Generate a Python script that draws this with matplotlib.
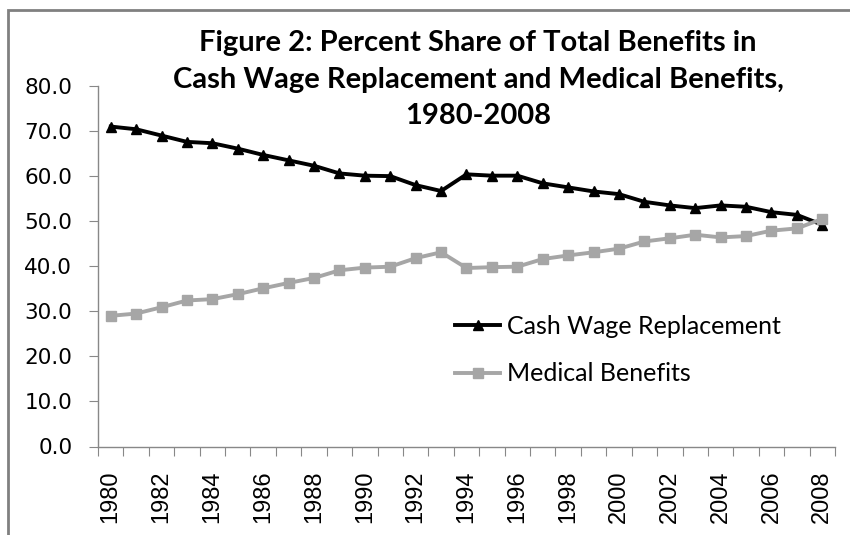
import matplotlib
matplotlib.use("Agg")
import matplotlib.pyplot as plt
from matplotlib.patches import Rectangle

# values
years = list(range(1980, 2009))
cash_wage = [71.0, 70.4, 69.0, 67.6, 67.3, 66.1, 64.7, 63.5, 62.3, 60.6,
             60.1, 60.0, 58.0, 56.7, 60.4, 60.1, 60.1, 58.4, 57.5, 56.6,
             56.0, 54.3, 53.5, 52.9, 53.5, 53.2, 52.0, 51.4, 49.2]
medical = [29.0, 29.5, 30.9, 32.4, 32.7, 33.8, 35.1, 36.3, 37.4, 39.1,
           39.7, 39.9, 41.8, 43.1, 39.6, 39.8, 39.9, 41.6, 42.4, 43.1,
           43.9, 45.5, 46.2, 47.0, 46.4, 46.7, 47.9, 48.4, 50.5]
series_names = ["Cash Wage Replacement", "Medical Benefits"]
title = "Figure 2: Percent Share of Total Benefits in\nCash Wage Replacement and Medical Benefits,\n1980-2008"

fig = plt.figure(figsize=(8.5, 5.35), dpi=100)
ax = fig.add_axes([98 / 850, 88.5 / 535, 737 / 850, 360.5 / 535])

x = list(range(len(years)))
ax.plot(x, cash_wage, color="black", lw=2.8, marker="^", markersize=7.5,
        label=series_names[0])
ax.plot(x, medical, color="#a6a6a6", lw=2.8, marker="s", markersize=6.5,
        label=series_names[1])

ax.set_xlim(-0.5, len(years) - 0.5)
ax.set_ylim(0, 80)
ax.set_yticks(range(0, 81, 10))
ax.set_yticklabels([f"{v:.1f}" for v in range(0, 81, 10)],
                   fontsize=15.5, family="DejaVu Sans")

# tick marks between categories, labels on every other year
ax.set_xticks([i - 0.5 for i in range(len(years) + 1)])
ax.set_xticklabels([])
ax.set_xticks(x[::2], minor=True)
ax.set_xticklabels([str(y) for y in years[::2]], minor=True, rotation=90,
                   fontsize=17, family="Liberation Sans")
ax.tick_params(axis="x", which="major", length=6.5, color="#888888")
ax.tick_params(axis="x", which="minor", length=0, pad=17)
ax.tick_params(axis="y", length=6.5, color="#888888", pad=12)

for s in ["top", "right"]:
    ax.spines[s].set_visible(False)
for s in ["left", "bottom"]:
    ax.spines[s].set_color("#888888")
    ax.spines[s].set_linewidth(1)

fig.text(478 / 850, 1 - 80 / 535, title, ha="center", va="center",
         fontsize=21, fontweight="bold", family="Lato", linespacing=1.5)

leg = ax.legend(loc="upper left", bbox_to_anchor=(443 / 850, 1 - 302 / 535),
                bbox_transform=fig.transFigure, frameon=False,
                prop={"family": "Lato", "size": 18}, handlelength=1.8,
                handletextpad=0.28, labelspacing=0.99, borderpad=0)

# chart frame (only top and left edges visible in the crop)
fig.patches.append(Rectangle((8 / 850, -0.2), 1.5, 1 - 10 / 535 + 0.2,
                             transform=fig.transFigure, fill=False,
                             edgecolor="#808080", lw=2))

fig.savefig("out.png", dpi=100)
